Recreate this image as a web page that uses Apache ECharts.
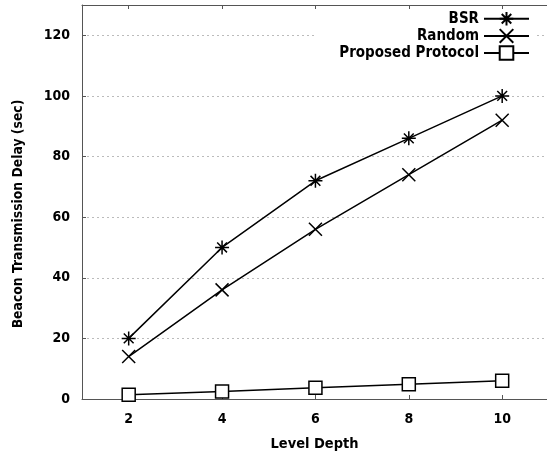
<!DOCTYPE html>
<html><head><meta charset="utf-8">
<script src="https://cdn.jsdelivr.net/npm/echarts@6/dist/echarts.min.js"></script>
<style>html,body{margin:0;padding:0;background:#fff}#c{width:547px;height:457px}</style>
</head><body><div id="c"></div>
<script>
const levels = [2, 4, 6, 8, 10];
const bsr = [20, 50, 72, 86, 100];
const randomP = [14, 36, 56, 74, 92];
const proposed = [1.4, 2.5, 3.7, 4.9, 6];
const xTicks = [2, 4, 6, 8, 10];

const font = 'DejaVu Sans Condensed';
const star = 'path://M0,-10L0,10M-10,0L10,0M-7,-7L7,7M-7,7L7,-7';
const cross = 'path://M-10,-10L10,10M-10,10L10,-10';
function pts(arr){ return levels.map((x,i)=>[x,arr[i]]); }
function ser(name, data, symbol, size, fill){
  return {
    name, type:'line', data: pts(data), symbol, symbolSize:size,
    lineStyle:{color:'#000', width:1.5},
    itemStyle:{color:fill, borderColor:'#000', borderWidth:1.5},
    emphasis:{disabled:true}
  };
}
const chart = echarts.init(document.getElementById('c'));
chart.setOption({
  animation:false,
  grid:{left:82, right:0, top:5, bottom:55, containLabel:false},
  legend:{
    orient:'vertical', right:10, top:9, align:'right',
    backgroundColor:'#fff', padding:[2,7,2,25],
    itemWidth:45, itemHeight:17, itemGap:1.5,
    textStyle:{fontFamily:font, fontWeight:'bold', fontSize:15, color:'#000'},
    data:['BSR','Random','Proposed Protocol']
  },
  graphic:[{
    type:'text', x:18, y:214, rotation:Math.PI/2,
    style:{text:'Beacon Transmission Delay (sec)', fontFamily:font, fontWeight:'bold', fontSize:13.8,
      fill:'#000', textAlign:'center', textVerticalAlign:'middle'}
  }],
  xAxis:[{
    type:'value', min:1, max:10.96,
    name:'Level Depth', nameLocation:'middle', nameGap:38,
    nameTextStyle:{fontFamily:font, fontWeight:'bold', fontSize:14.5, color:'#000'},
    axisLine:{lineStyle:{color:'#555', width:1}},
    axisTick:{inside:true, length:4, customValues:xTicks, lineStyle:{color:'#555'}},
    axisLabel:{customValues:xTicks, margin:13, fontFamily:font, fontWeight:'bold', fontSize:14, color:'#000'},
    splitLine:{show:false}
  },{
    type:'value', min:1, max:10.96, position:'top',
    axisLine:{show:true, lineStyle:{color:'#555', width:1}},
    axisTick:{inside:true, length:4, customValues:xTicks, lineStyle:{color:'#555'}},
    axisLabel:{show:false}, splitLine:{show:false}
  }],
  yAxis:{
    type:'value', min:0, max:130, interval:20,
    axisLine:{show:true, lineStyle:{color:'#555', width:1}},
    axisTick:{inside:true, length:4, lineStyle:{color:'#555'}},
    axisLabel:{margin:12, showMaxLabel:false, fontFamily:font, fontWeight:'bold', fontSize:14, color:'#000',
      formatter:v=> v>120 ? '' : String(v)},
    splitLine:{show:true, lineStyle:{color:'#bbb', type:[2,3], width:1}}
  },
  series:[
    ser('BSR', bsr, star, 14, 'rgba(0,0,0,0)'),
    ser('Random', randomP, cross, 13, 'rgba(0,0,0,0)'),
    ser('Proposed Protocol', proposed, 'rect', 13, '#fff')
  ]
});
</script></body></html>
